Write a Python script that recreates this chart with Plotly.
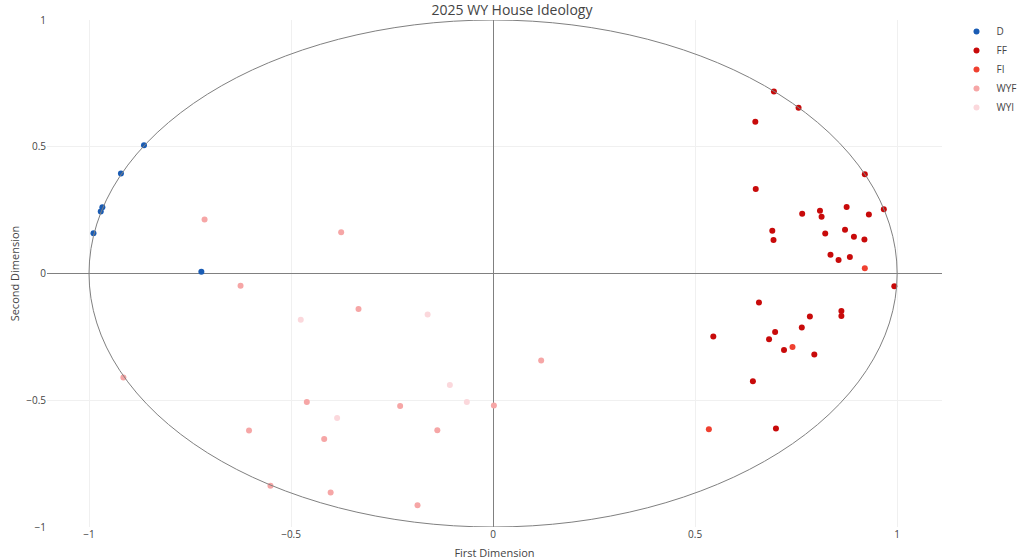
import plotly.graph_objects as go

# ---- data ----
parties = ["D", "FF", "FI", "WYF", "WYI"]
colors = {"D": "#1a5cb4", "FF": "#c80a0a", "FI": "#ef4030", "WYF": "#f6a6a6", "WYI": "#fbd8dc"}

d_x = [-0.864, -0.921, -0.967, -0.971, -0.989, -0.722]
d_y = [0.506, 0.394, 0.261, 0.245, 0.159, 0.007]

ff_x = [0.695, 0.756, 0.649, 0.920, 0.650, 0.967, 0.875, 0.809, 0.813, 0.765,
        0.930, 0.691, 0.694, 0.822, 0.871, 0.893, 0.919, 0.835, 0.855, 0.883,
        0.993, 0.658, 0.545, 0.862, 0.862, 0.784, 0.764, 0.698, 0.683, 0.720,
        0.795, 0.643, 0.700]
ff_y = [0.718, 0.654, 0.599, 0.392, 0.333, 0.253, 0.262, 0.248, 0.224, 0.236,
        0.233, 0.169, 0.132, 0.158, 0.173, 0.145, 0.134, 0.074, 0.053, 0.065,
        -0.050, -0.114, -0.249, -0.148, -0.168, -0.170, -0.213, -0.231, -0.259, -0.302,
        -0.320, -0.425, -0.611]

fi_x = [0.920, 0.741, 0.534]
fi_y = [0.021, -0.290, -0.614]

wyf_x = [-0.714, -0.376, -0.625, -0.333, -0.915, -0.461, -0.230, 0.002, -0.604,
         -0.138, -0.418, -0.551, -0.402, -0.187, 0.119]
wyf_y = [0.213, 0.163, -0.048, -0.140, -0.410, -0.507, -0.523, -0.521, -0.619,
         -0.618, -0.653, -0.837, -0.864, -0.914, -0.343]

wyi_x = [-0.476, -0.162, -0.107, -0.065, -0.386]
wyi_y = [-0.182, -0.162, -0.440, -0.507, -0.570]

series = {"D": (d_x, d_y), "FF": (ff_x, ff_y), "FI": (fi_x, fi_y),
          "WYF": (wyf_x, wyf_y), "WYI": (wyi_x, wyi_y)}

fig = go.Figure()
for p in parties:
    xs, ys = series[p]
    fig.add_trace(go.Scatter(x=xs, y=ys, mode="markers", name=p,
                             marker=dict(size=6, color=colors[p])))

fig.add_shape(type="circle", xref="x", yref="y", x0=-1, y0=-1, x1=1, y1=1,
              line=dict(color="#808080", width=1))

fig.update_layout(
    template="plotly_white",
    width=1024, height=560,
    margin=dict(l=47, r=82, t=19.5, b=33.3, autoexpand=False),
    title=dict(text="2025 WY House Ideology", x=0.5, xanchor="center",
               y=0.982, yanchor="middle", pad=dict(t=0, b=0),
               font=dict(size=14, color="#444"), automargin=False),
    font=dict(size=10, color="#444"),
    legend=dict(font=dict(size=10), xref="container", yref="container",
                x=956.5 / 1024, y=1 - 17 / 560, xanchor="left", yanchor="top"),
    xaxis=dict(title=dict(text="First Dimension", font=dict(size=11), standoff=15),
               range=[-1.104, 1.111], tickvals=[-1, -0.5, 0, 0.5, 1],
               gridcolor="#f0f0f0", zeroline=True, zerolinecolor="#808080",
               zerolinewidth=1.3, showline=False, automargin=False),
    yaxis=dict(title=dict(text="Second Dimension", font=dict(size=11), standoff=4),
               range=[-1.0, 1.0], tickvals=[-1, -0.5, 0, 0.5, 1],
               gridcolor="#f0f0f0", zeroline=True, zerolinecolor="#808080",
               zerolinewidth=1.3, showline=False, automargin=False),
)

fig.write_html("out.html", config={"displayModeBar": False},
               post_script="document.body.style.margin='0px';")
